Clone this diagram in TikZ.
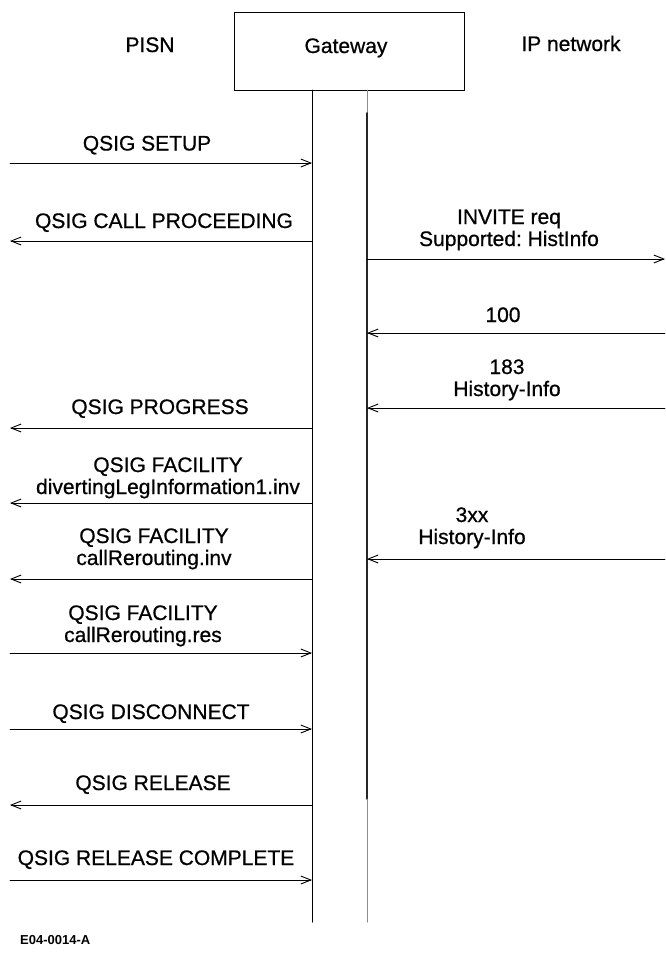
\documentclass[tikz,border=0pt]{standalone}
\usepackage{fontspec}
\setmainfont{Liberation Sans}
\newfontfamily\lblfont{Liberation Sans}[FakeBold=0.7]
\usetikzlibrary{arrows.meta,positioning}

\begin{document}
\frenchspacing
\begin{tikzpicture}[x=1pt, y=-1pt, >={Straight Barb[length=10pt,width=8pt]}, line cap=round,
    lbl/.style={inner sep=0pt, anchor=base, align=center, font=\lblfont\fontsize{21}{22}\selectfont},
    msg/.style={line width=0.9pt, ->},
    life/.style={line width=1pt},
    lifegray/.style={line width=1pt, black!45},
    lifedark/.style={line width=1.6pt, black!85}]
    \useasboundingbox (0,0) rectangle (666,956);
    % headings
    \node[draw, line width=0.8pt, minimum width=230pt, minimum height=78pt] (gw) at (349,51) {};
    \node[lbl] (gwText) at (346,53) {Gateway};
    \node[lbl] (pisn) at (150,52) {PISN};
    \node[lbl] (ipnet) at (571,51) {IP network};
    % lifelines
    \coordinate (edgeL) at (10,0);
    \coordinate (edgeR) at (665,0);
    \coordinate (qsigTop) at (312,90);
    \coordinate (qsigEnd) at (312,922);
    \coordinate (sipTop) at (367,90);
    \coordinate (sipOn) at (367,113);
    \coordinate (sipOff) at (367,799);
    \coordinate (sipEnd) at (367,922);
    \draw[life] (qsigTop) -- (qsigEnd);
    \draw[lifegray] (sipTop) -- (sipOn);
    \draw[lifedark] (sipOn) -- (sipOff);
    \draw[lifegray] (sipOff) -- (sipEnd);
    % PISN side
    \node[lbl] (setup) at (147,150.5) {QSIG SETUP};
    \draw[msg] (edgeL |- 0,163) -- (qsigTop |- 0,163);
    \node[lbl] (proc) at (164,228) {QSIG CALL PROCEEDING};
    \draw[msg] (qsigTop |- 0,241) -- (edgeL |- 0,241);
    \node[lbl] (progress) at (160,414) {QSIG PROGRESS};
    \draw[msg] (qsigTop |- 0,428) -- (edgeL |- 0,428);
    \node[lbl] (divert) at (168,494) {QSIG FACILITY\\divertingLegInformation1.inv};
    \draw[msg] (qsigTop |- 0,503) -- (edgeL |- 0,503);
    \node[lbl] (rerInv) at (154,565) {QSIG FACILITY\\callRerouting.inv};
    \draw[msg] (qsigTop |- 0,579) -- (edgeL |- 0,579);
    \node[lbl] (rerRes) at (143,642) {QSIG FACILITY\\callRerouting.res};
    \draw[msg] (edgeL |- 0,653) -- (qsigTop |- 0,653);
    \node[lbl] (disc) at (151,719) {QSIG DISCONNECT};
    \draw[msg] (edgeL |- 0,729) -- (qsigTop |- 0,729);
    \node[lbl] (rel) at (153,790) {QSIG RELEASE};
    \draw[msg] (qsigTop |- 0,805) -- (edgeL |- 0,805);
    \node[lbl] (relComp) at (156,865) {QSIG RELEASE COMPLETE};
    \draw[msg] (edgeL |- 0,880) -- (qsigTop |- 0,880);
    % IP side
    \node[lbl] (invite) at (509,246) {INVITE req\\Supported: HistInfo};
    \draw[msg] (sipTop |- 0,259) -- (edgeR |- 0,259);
    \node[lbl] (trying) at (503,322) {100};
    \draw[msg] (edgeR |- 0,333) -- (sipTop |- 0,333);
    \node[lbl] (prog183) at (507,396) {183\\History-Info};
    \draw[msg] (edgeR |- 0,408) -- (sipTop |- 0,408);
    \node[lbl] (redir) at (472,544) {3xx\\History-Info};
    \draw[msg] (edgeR |- 0,559) -- (sipTop |- 0,559);
    % figure id
    \node[inner sep=0pt, anchor=base west, font=\fontsize{13}{14}\selectfont\bfseries] (figId) at (20,944) {E04-0014-A};
\end{tikzpicture}
\end{document}
